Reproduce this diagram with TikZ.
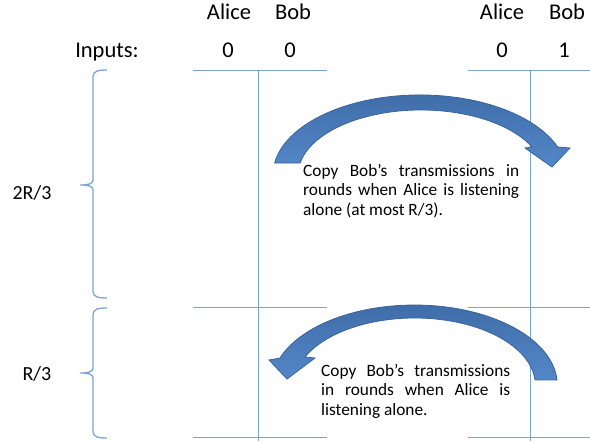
\documentclass[tikz,border=0pt]{standalone}
\usepackage{fontspec}
\setmainfont{Carlito}
\definecolor{ln}{HTML}{7BA3D4}
\definecolor{arTop}{HTML}{3E6CA8}
\definecolor{arBot}{HTML}{5487C8}
\definecolor{ard}{HTML}{3A6498}
\begin{document}
\begin{tikzpicture}[x=1pt,y=-1pt,
  gridline/.style={draw=ln, line width=1pt},
  brace/.style={draw=ln, line width=1.3pt},
  curvearrow/.style={top color=arTop, bottom color=arBot, draw=ard, line width=0.8pt, line join=miter},
  head/.style={font=\fontsize{22.5pt}{27pt}\selectfont, anchor=base, inner sep=0pt},
  side/.style={font=\fontsize{20pt}{24pt}\selectfont, anchor=base, inner sep=0pt},
  body/.style={anchor=base west, inner sep=0pt},
]
\useasboundingbox (0,0) rectangle (590,442);

% grid lines
\draw[gridline] (193,70) -- (327,70);
\draw[gridline] (468,70) -- (590,70);
\draw[gridline] (193,307) -- (327,307);
\draw[gridline] (468,307) -- (590,307);
\draw[gridline] (193,437) -- (327,437);
\draw[gridline] (468,437) -- (590,437);
\draw[gridline] (258,70) -- (258,441);
\draw[gridline] (530,70) -- (530,441);

% braces
\draw[brace] (107,70) .. controls (98,70) and (93,71) .. (93,77) -- (93,180)
  .. controls (93,184) and (88,185) .. (80,185)
  .. controls (88,185) and (93,186) .. (93,190) -- (93,291)
  .. controls (93,297) and (98,298) .. (107,298);
\draw[brace] (107,308) .. controls (98,308) and (93,309) .. (93,315) -- (93,368)
  .. controls (93,372) and (88,373) .. (80,373)
  .. controls (88,373) and (93,374) .. (93,378) -- (93,431)
  .. controls (93,437) and (98,438) .. (107,438);

% curved arrows
\draw[curvearrow] (274.6,163) arc[start angle=188.6, end angle=339.5, x radius=147, y radius=80]
  -- (570,148) -- (552,167) -- (525,148) -- (532,147)
  arc[start angle=334.5, end angle=190.6, x radius=123, y radius=65] -- cycle;
\draw[curvearrow] (557,380) arc[start angle=356.4, end angle=199.7, x radius=142.9, y radius=80]
  -- (269,360) -- (287,379) -- (315,358) -- (305,357)
  arc[start angle=204.7, end angle=355.7, x radius=120.7, y radius=67] -- cycle;

% headings
\node[head] (aliceL) at (229,19) {Alice};
\node[head] (bobL) at (293,19) {Bob};
\node[head] (aliceR) at (502,19) {Alice};
\node[head] (bobR) at (567,19) {Bob};
\node[head] (inputs) at (107,57) {Inputs:};
\node[head] (inAL) at (228,57) {0};
\node[head] (inBL) at (290,57) {0};
\node[head] (inAR) at (502,57) {0};
\node[head] (inBR) at (564,57) {1};

% side labels
\node[side] (twothirds) at (32,199) {2R/3};
\node[side] (onethird) at (37,380) {R/3};

% text boxes
\node[body] (copyA) at (303,176) {\parbox[t]{216pt}{\fontsize{17.3pt}{19.6pt}\selectfont
  \makebox[216pt][s]{Copy Bob’s transmissions in}\\
  \makebox[216pt][s]{rounds when Alice is listening}\\
  alone (at most R/3).}};
\node[body] (copyB) at (321,376) {\parbox[t]{189pt}{\fontsize{17.3pt}{19.6pt}\selectfont
  \makebox[189pt][s]{Copy Bob’s transmissions}\\
  \makebox[189pt][s]{in rounds when Alice is}\\
  listening alone.}};
\end{tikzpicture}
\end{document}
